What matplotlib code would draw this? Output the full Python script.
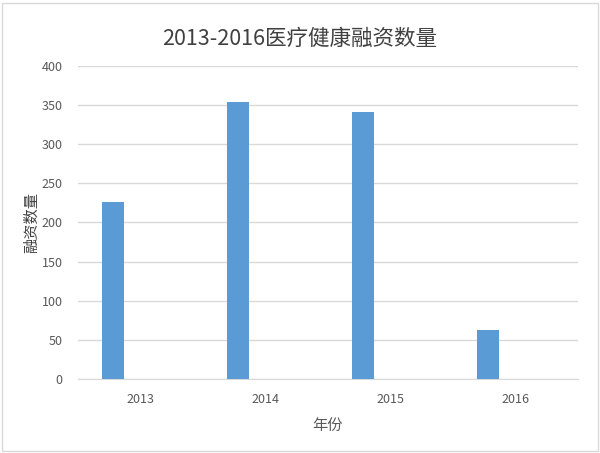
import matplotlib.pyplot as plt
from matplotlib.patches import Rectangle

plt.rcParams['font.family'] = ['Noto Sans CJK SC', 'DejaVu Sans']

# 数据
years = ["2013", "2014", "2015", "2016"]
counts = [226, 354, 341, 63]
yticks = [0, 50, 100, 150, 200, 250, 300, 350, 400]

fig = plt.figure(figsize=(6, 4.53), dpi=100)
ax = fig.add_axes([0.13, 0.1634, 0.833, 0.6909])

x = range(len(years))
ax.bar([i - 0.218 for i in x], counts, width=0.172, color="#5B9BD5", zorder=3)

ax.set_xlim(-0.5, len(years) - 0.5)
ax.set_ylim(0, 400)
ax.set_yticks(yticks)
ax.set_xticks(list(x))
ax.set_xticklabels(years)
ax.grid(axis="y", color="#D9D9D9", linewidth=1, zorder=0)
ax.tick_params(length=0, labelsize=9, colors="#595959")
ax.tick_params(axis="y", pad=11)
ax.tick_params(axis="x", pad=10)
for s in ["top", "right", "left"]:
    ax.spines[s].set_visible(False)
ax.spines["bottom"].set_color("#D9D9D9")

ax.set_xlabel("年份", fontsize=11, color="#595959", labelpad=8)
ax.set_ylabel("融资数量", fontsize=11, color="#404040", labelpad=1)
fig.text(0.5, 0.915, "2013-2016医疗健康融资数量", ha="center", va="center",
         fontsize=15.5, color="#404040")

# 外框
fig.patches.append(Rectangle((0.003, 0.004), 0.993, 0.99, transform=fig.transFigure,
                             fill=False, edgecolor="#D9D9D9", linewidth=1))

fig.savefig("out.png", dpi=100)
